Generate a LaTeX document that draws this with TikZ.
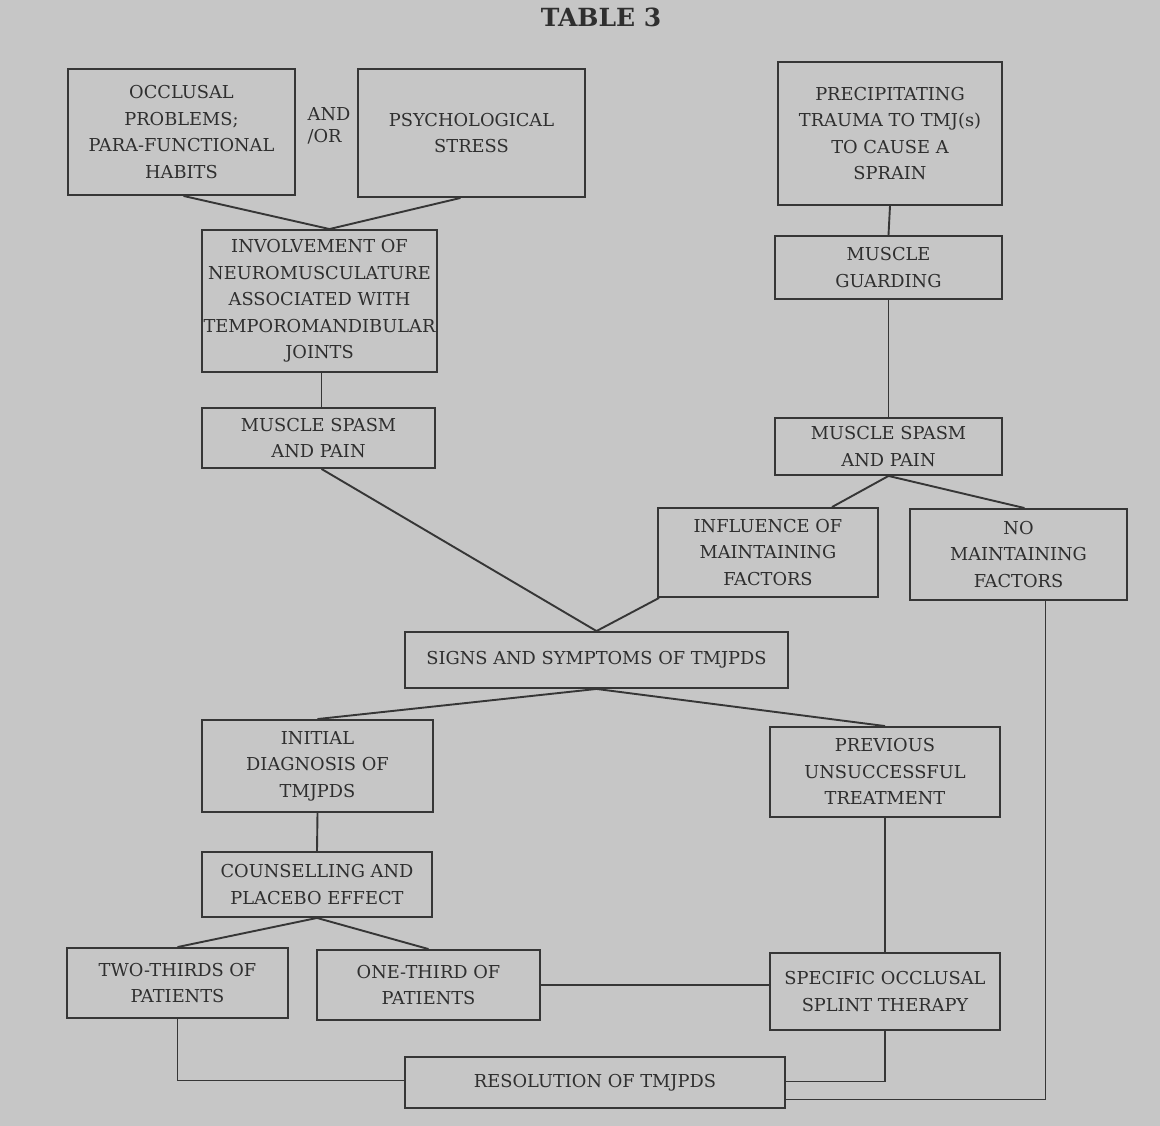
\documentclass[tikz,border=0pt]{standalone}
\usepackage{fontspec}
\setmainfont{DejaVu Serif}
\usetikzlibrary{calc}
\definecolor{bggrey}{HTML}{C6C6C6}
\definecolor{ink}{HTML}{2F2F2F}
\definecolor{lineink}{HTML}{363636}
\tikzset{
  box/.style={draw=lineink, line width=1.9pt, rectangle, inner sep=0pt, align=center,
    text=ink, font=\fontsize{17.8}{26.5}\selectfont},
  conn/.style={draw=lineink, line width=1.9pt, line join=miter},
  free/.style={inner sep=0pt, text=ink, font=\fontsize{17.8}{22}\selectfont}
}
\begin{document}
\begin{tikzpicture}[x=1pt,y=-1pt]
\useasboundingbox (0,0) rectangle (1160,1126);
\fill[bggrey] (0,0) rectangle (1160,1126);
% title
\node[inner sep=0pt, text=ink, font=\fontsize{25}{28}\selectfont\bfseries] (title) at (601,17) {TABLE 3};
% left column
\node[box, minimum width=227pt, minimum height=126pt] (A) at (181.5,132) {OCCLUSAL\\PROBLEMS;\\PARA-FUNCTIONAL\\HABITS};
\node[free, align=left] (andor) at (329,126) {AND\\/OR};
\node[box, minimum width=227pt, minimum height=128pt] (B) at (471.5,133) {PSYCHOLOGICAL\\STRESS};
\node[box, minimum width=235pt, minimum height=142pt] (C) at (319.5,301) {INVOLVEMENT OF\\NEUROMUSCULATURE\\ASSOCIATED WITH\\TEMPOROMANDIBULAR\\JOINTS};
\node[box, minimum width=233pt, minimum height=60pt] (D) at (318.5,438) {MUSCLE SPASM\\AND PAIN};
% right column
\node[box, minimum width=224pt, minimum height=143pt] (E) at (890,133.5) {PRECIPITATING\\TRAUMA TO TMJ(s)\\TO CAUSE A\\SPRAIN};
\node[box, minimum width=227pt, minimum height=63pt] (F) at (888.5,267.5) {MUSCLE\\GUARDING};
\node[box, minimum width=227pt, minimum height=57pt] (G) at (888.5,446.5) {MUSCLE SPASM\\AND PAIN};
\node[box, minimum width=220pt, minimum height=89pt] (H) at (768,552.5) {INFLUENCE OF\\MAINTAINING\\FACTORS};
\node[box, minimum width=217pt, minimum height=91pt] (I) at (1018.5,554.5) {NO\\MAINTAINING\\FACTORS};
% middle
\node[box, minimum width=383pt, minimum height=56pt] (J) at (596.5,660) {SIGNS AND SYMPTOMS OF TMJPDS};
\node[box, minimum width=231pt, minimum height=92pt] (K) at (317.5,766) {INITIAL\\DIAGNOSIS OF\\TMJPDS};
\node[box, minimum width=230pt, minimum height=90pt] (L) at (885,772) {PREVIOUS\\UNSUCCESSFUL\\TREATMENT};
\node[box, minimum width=230pt, minimum height=65pt] (M) at (317,884.5) {COUNSELLING AND\\PLACEBO EFFECT};
\node[box, minimum width=221pt, minimum height=70pt] (N) at (177.5,983) {TWO-THIRDS OF\\PATIENTS};
\node[box, minimum width=223pt, minimum height=70pt] (O) at (428.5,985) {ONE-THIRD OF\\PATIENTS};
\node[box, minimum width=230pt, minimum height=77pt] (P) at (885,991.5) {SPECIFIC OCCLUSAL\\SPLINT THERAPY};
\node[box, minimum width=380pt, minimum height=51pt] (Q) at (595,1082.5) {RESOLUTION OF TMJPDS};
% connectors
\coordinate (cj) at ([xshift=10pt]C.north);
\draw[conn] ([xshift=2pt]A.south) -- (cj) -- ([xshift=-11pt]B.south);
\draw[conn] ([xshift=2pt]C.south) -- ([xshift=3pt]D.north);
\draw[conn] ([xshift=3pt]D.south) -- (J.north) -- ([xshift=2pt]H.south west);
\draw[conn] (E.south) -- (F.north);
\draw[conn] (F.south) -- (G.north);
\draw[conn] ([xshift=64pt]H.north) -- (G.south) -- ([xshift=6pt]I.north);
\draw[conn] (K.north) -- (J.south) -- (L.north);
\draw[conn] (K.south) -- (M.north);
\draw[conn] (N.north) -- (M.south) -- (O.north);
\draw[conn] (L.south) -- (P.north);
\draw[conn] (O.east) -- (O.east -| P.west);
\draw[conn] (N.south) |- ([yshift=2pt]Q.west);
\draw[conn] (P.south) |- ([yshift=1pt]Q.east);
\draw[conn] ([xshift=27pt]I.south) |- ([yshift=-17pt]Q.east);
\end{tikzpicture}
\end{document}
